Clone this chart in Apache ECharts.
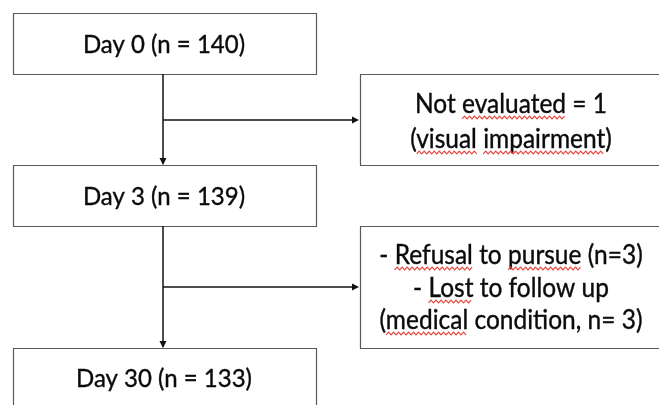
<!DOCTYPE html>
<html>
<head>
<meta charset="utf-8">
<script src="https://cdn.jsdelivr.net/npm/echarts@6/dist/echarts.min.js"></script>
<style>html,body{margin:0;padding:0;background:#fff}#c{width:659px;height:405px}</style>
</head>
<body>
<div id="c"></div>
<script>
// ---- data ----
var stages = ['Day 0', 'Day 3', 'Day 30'];
var counts = [140, 139, 133];
var exclusionLines = [
  ['Not evaluated = 1', '(visual impairment)'],
  ['- Refusal to pursue (n=3)', '- Lost to follow up', '(medical condition, n= 3)']
];
var misspelled = ['evaluated', 'visual', 'impairment', 'Refusal', 'pursue', 'Lost', 'medical'];

// ---- layout (styles/positions) ----
var FONT_FAMILY = 'Lato, "Open Sans", sans-serif';
var mainFont = 24, sideFont = 24.5;
var mainBoxes = [ {x:13, y:13, w:303, h:61}, {x:13, y:165, w:303, h:61}, {x:13, y:348, w:303, h:80} ];
var textCY = [45, 197, 379];
var sideBoxes = [ {x:360, y:74, w:310, h:91}, {x:360, y:226, w:310, h:122} ];
var sideLineCY = [[104, 139], [255, 288, 320]];
var sideCX = 511;
var trunkX = 163;
var branchY = [120, 287];

var ctx = document.createElement('canvas').getContext('2d');
function measure(t, size){ ctx.font = size + 'px ' + FONT_FAMILY; return ctx.measureText(t).width; }

var g = [];
function box(b){
  g.push({type:'rect', shape:{x:b.x+0.5, y:b.y+0.5, width:b.w, height:b.h},
    style:{fill:'#fff', stroke:'#5a5a5a', lineWidth:1.2}, z:1});
}
function text(t, cx, cy, size){
  g.push({type:'text', x:cx, y:cy, scaleY:1.08, style:{text:t, font: size + 'px ' + FONT_FAMILY,
    fill:'#0a0a0a', stroke:'#0a0a0a', lineWidth:0.35, align:'center', verticalAlign:'middle'}, z:3});
}
function line(x1,y1,x2,y2){
  g.push({type:'line', shape:{x1:x1,y1:y1,x2:x2,y2:y2}, style:{stroke:'#111', lineWidth:1.5}, z:2});
}
function arrowDown(x, y){
  g.push({type:'polygon', shape:{points:[[x-3.5,y-7],[x+3.5,y-7],[x,y]]}, style:{fill:'#111'}, z:2});
}
function arrowRight(x, y){
  g.push({type:'polygon', shape:{points:[[x-7,y-3.5],[x-7,y+3.5],[x,y]]}, style:{fill:'#111'}, z:2});
}
function wavy(x1, x2, y){
  var pts = [], i = 0;
  for (var x = x1; x <= x2; x += 2.5, i++) pts.push([x, y + (i % 2 ? -1.3 : 1.3)]);
  g.push({type:'polyline', shape:{points:pts}, style:{stroke:'#e8453c', lineWidth:1.2, fill:null}, z:3});
}

mainBoxes.forEach(box);
sideBoxes.forEach(box);
stages.forEach(function(s, i){ text(s + ' (n = ' + counts[i] + ')', 164, textCY[i], mainFont); });

exclusionLines.forEach(function(lines, bi){
  lines.forEach(function(t, li){
    var cy = sideLineCY[bi][li];
    text(t, sideCX, cy, sideFont);
    var w = measure(t, sideFont), x0 = sideCX - w/2;
    misspelled.forEach(function(word){
      var idx = t.indexOf(word);
      if (idx >= 0) {
        var a = x0 + measure(t.substring(0, idx), sideFont);
        var b = a + measure(word, sideFont);
        wavy(a, b, cy + 13.5);
      }
    });
  });
});

// connectors
line(trunkX, 74, trunkX, 164); arrowDown(trunkX, 165);
line(trunkX, branchY[0], 352, branchY[0]); arrowRight(359, branchY[0]);
line(trunkX, 226, trunkX, 347); arrowDown(trunkX, 348);
line(trunkX, branchY[1], 352, branchY[1]); arrowRight(359, branchY[1]);

var chart = echarts.init(document.getElementById('c'), null, {renderer:'canvas'});
chart.setOption({ backgroundColor:'#fff', animation:false, graphic:{elements:g} });
</script>
</body>
</html>
